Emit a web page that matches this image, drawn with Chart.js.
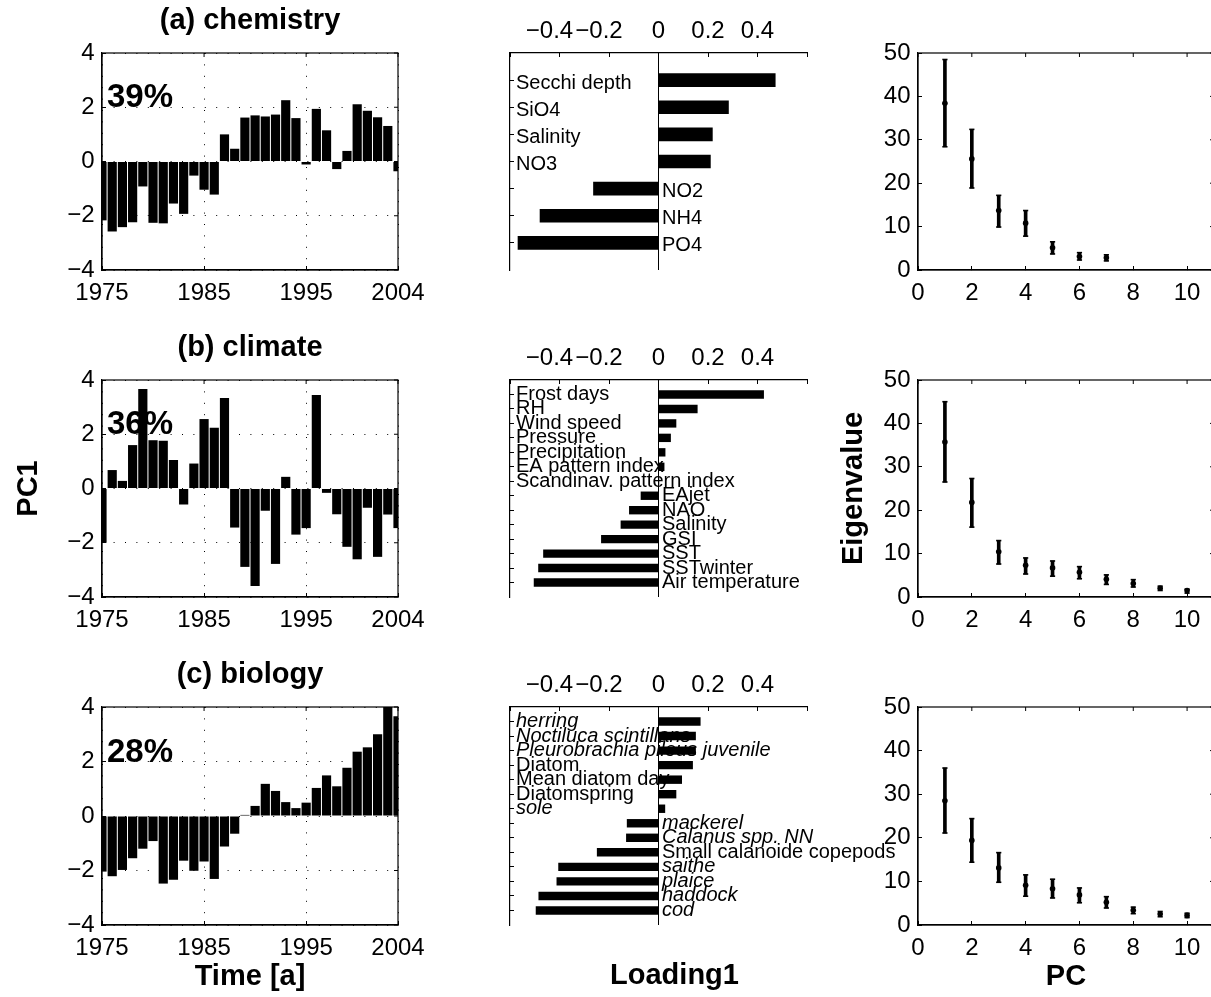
<!DOCTYPE html>
<html><head><meta charset="utf-8">
<script src="https://cdn.jsdelivr.net/npm/chart.js"></script>
<style>
html,body{margin:0;padding:0;background:#fff;overflow:hidden;width:1211px;height:997px;position:relative}
canvas{position:absolute}
</style></head><body>
<script>
// ---------------- data ----------------
const years = [1975,1976,1977,1978,1979,1980,1981,1982,1983,1984,1985,1986,1987,1988,1989,1990,1991,1992,1993,1994,1995,1996,1997,1998,1999,2000,2001,2002,2003,2004];
const yearTicks = [1975,1985,1995,2004];
const pcTicks = [-4,-2,0,2,4];
const pc1Chemistry = [-2.17,-2.58,-2.42,-2.24,-0.92,-2.26,-2.28,-1.55,-1.93,-0.52,-1.04,-1.22,1.00,0.47,1.62,1.70,1.66,1.73,2.26,1.60,-0.11,1.94,1.15,-0.28,0.39,2.11,1.87,1.63,1.31,-0.36];
const pc1Climate   = [-2.00,0.68,0.28,1.60,3.67,1.78,1.76,1.05,-0.59,0.92,2.56,2.24,3.34,-1.44,-2.89,-3.59,-0.82,-2.78,0.43,-1.70,-1.46,3.45,-0.16,-0.95,-2.15,-2.61,-0.71,-2.52,-0.96,-1.46];
const pc1Biology   = [-2.04,-2.21,-1.98,-1.55,-1.20,-0.92,-2.48,-2.34,-1.64,-2.01,-1.67,-2.31,-1.12,-0.65,0.04,0.37,1.18,0.92,0.51,0.29,0.49,1.03,1.49,1.09,1.77,2.36,2.52,3.00,4.30,3.66];
const panelTitles = ['(a) chemistry','(b) climate','(c) biology'];
const explained = ['39%','36%','28%'];

const chemVars = ['Secchi depth','SiO4','Salinity','NO3','NO2','NH4','PO4'];
const chemLoad = [0.473,0.284,0.219,0.211,-0.264,-0.480,-0.569];
const climVars = ['Frost days','RH','Wind speed','Pressure','Precipitation','EA pattern index','Scandinav. pattern index','EAjet','NAO','Salinity','GSI','SST','SSTwinter','Air temperature'];
const climLoad = [0.426,0.158,0.072,0.050,0.028,0.024,0.003,-0.072,-0.119,-0.153,-0.232,-0.466,-0.486,-0.504];
const bioVars = ['herring','Noctiluca scintillans','Pleurobrachia pileus juvenile','Diatom','Mean diatom day','Diatomspring','sole','mackerel','Calanus spp. NN','Small calanoide copepods','saithe','plaice','haddock','cod'];
const bioLoad = [0.170,0.151,0.151,0.139,0.095,0.072,0.027,-0.128,-0.131,-0.249,-0.405,-0.412,-0.485,-0.496];
const bioItalic = ['herring','Noctiluca scintillans','Pleurobrachia pileus juvenile','sole','mackerel','Calanus spp. NN','saithe','plaice','haddock','cod'];
const loadTicks = [-0.6,-0.4,-0.2,0,0.2,0.4,0.6];

const pcIndex = [1,2,3,4,5,6,7,8,9,10];
const eigTicksX = [0,2,4,6,8,10];
const eigTicksY = [0,10,20,30,40,50];
const eigChemMean = [38.4,25.6,13.7,10.8,5.1,3.1,2.8];
const eigChemLow  = [28.4,18.9,9.9,7.8,3.7,2.3,2.1];
const eigChemHigh = [48.5,32.4,17.2,13.7,6.5,4.0,3.5];
const eigClimMean = [35.7,21.8,10.4,7.3,6.7,5.7,4.1,3.1,2.0,1.5];
const eigClimLow  = [26.5,16.1,7.6,5.3,4.8,4.2,2.9,2.3,1.5,0.9];
const eigClimHigh = [45.0,27.3,13.0,9.0,8.3,7.0,5.1,4.0,2.5,1.8];
const eigBioMean  = [28.5,19.4,13.1,9.1,8.3,6.9,5.2,3.4,2.5,2.2];
const eigBioLow   = [21.1,14.4,9.8,6.6,6.2,5.1,3.9,2.6,1.9,1.7];
const eigBioHigh  = [36.0,24.4,16.6,11.5,10.5,8.5,6.5,4.1,3.1,2.7];

// ---------------- layout ----------------
const FONT = '"Liberation Sans", Arial, Helvetica, sans-serif';
Chart.defaults.font.family = FONT;
Chart.defaults.color = '#000';
const ROWS = [{top:53,bottom:270},{top:380,bottom:597},{top:707,bottom:925}];
const COLS = [{left:102,right:398},{left:510,right:807},{left:918,right:1214}];
const MT = 53, MB = 72;

function mkCanvas(x, y, w, h){
  const c = document.createElement('canvas');
  c.width = w; c.height = h;
  c.style.left = x + 'px'; c.style.top = y + 'px';
  c.style.width = w + 'px'; c.style.height = h + 'px';
  document.body.appendChild(c);
  return c;
}
const minusFmt = v => v < 0 ? '\u2212' + Math.abs(v) : String(v);

// ---------------- plugins ----------------
const framePlugin = {
  id: 'frame',
  afterDraw(chart, args, o){
    if (!o || !o.on) return;
    const {ctx, chartArea: a} = chart;
    ctx.save();
    ctx.strokeStyle = '#000';
    ctx.lineWidth = 1.2;
    ctx.strokeRect(a.left, a.top, a.right - a.left, a.bottom - a.top);
    const xs = chart.scales.x, ys = chart.scales.y;
    ctx.lineWidth = 1;
    ctx.beginPath();
    xs.ticks.forEach(t => { const p = xs.getPixelForValue(t.value); ctx.moveTo(p, a.top); ctx.lineTo(p, a.top + 4); });
    ys.ticks.forEach(t => { const p = ys.getPixelForValue(t.value); ctx.moveTo(a.right, p); ctx.lineTo(a.right - 4, p); });
    ctx.stroke();
    ctx.restore();
  }
};
const pctPlugin = {
  id: 'pct',
  beforeDatasetsDraw(chart, args, o){
    if (!o || !o.text) return;
    const {ctx} = chart; const xs = chart.scales.x, ys = chart.scales.y;
    ctx.save();
    ctx.font = 'bold 33px ' + FONT;
    ctx.fillStyle = '#000'; ctx.textAlign = 'left'; ctx.textBaseline = 'alphabetic';
    ctx.fillText(o.text, xs.getPixelForValue(xs.min) + 5, ys.getPixelForValue(o.atY));
    ctx.restore();
  }
};
const varLabelPlugin = {
  id: 'varLabels',
  afterDatasetsDraw(chart, args, o){
    if (!o || !o.names) return;
    const {ctx} = chart; const xs = chart.scales.x, ys = chart.scales.y;
    ctx.save();
    ctx.fillStyle = '#000'; ctx.textAlign = 'left'; ctx.textBaseline = 'middle';
    o.names.forEach((nm, i) => {
      const v = o.values[i];
      const it = o.italic && o.italic.includes(nm);
      ctx.font = (it ? 'italic ' : '') + '20px ' + FONT;
      const y = ys.getPixelForValue(i + 1) + (o.dy || 0);
      const x = v > 0 ? xs.left + 6 : xs.getPixelForValue(0) + 3.5;
      ctx.fillText(nm, x, y);
    });
    if (o.xlabel){
      ctx.font = 'bold 29px ' + FONT;
      ctx.textAlign = 'center'; ctx.textBaseline = 'alphabetic';
      ctx.fillText(o.xlabel, (xs.left + xs.right) / 2 + 16, chart.chartArea.bottom + 59);
    }
    ctx.restore();
  }
};

// ---------------- time series ----------------
function tsChart(row, vals, title, pct, yTitle, xTitle){
  const r = ROWS[row], c = COLS[0];
  const ML = c.left, MR = 50;
  const cv = mkCanvas(c.left - ML, r.top - MT, ML + (c.right - c.left) + MR, MT + (r.bottom - r.top) + MB);
  new Chart(cv, {
    type: 'bar',
    data: { datasets: [{ data: years.map((y, i) => ({x: y, y: vals[i]})), backgroundColor: '#000', borderWidth: 0,
      barPercentage: 0.9, categoryPercentage: 1, clip: 0 }] },
    options: {
      responsive: false, animation: false, devicePixelRatio: 1, events: [],
      layout: { padding: {left: 0, right: MR, top: 0, bottom: 0} },
      plugins: {
        legend: {display: false}, tooltip: {enabled: false},
        title: { display: true, fullSize: false, text: title, color: '#000', font: {size: 29, weight: 'bold'}, padding: {top: 3.6, bottom: 14.6} },
        pct: { text: pct, atY: 2 }, frame: { on: true }
      },
      scales: {
        x: { type: 'linear', min: 1975, max: 2004, offset: false,
          afterBuildTicks: s => { s.ticks = yearTicks.map(v => ({value: v})); },
          afterFit: s => { s.height = MB; },
          ticks: { autoSkip: false, maxRotation: 0, padding: 13.3, color: '#000', font: {size: 24}, callback: v => String(v) },
          grid: { offset: false, color: '#000', lineWidth: 1, tickColor: '#000', tickLength: -4, tickWidth: 1 },
          border: { display: true, color: '#000', width: 1.2, dash: [1, 10.4] },
          title: { display: !!xTitle, text: xTitle || '', color: '#000', font: {size: 29, weight: 'bold'}, padding: {top: 0, bottom: 3} }
        },
        y: { type: 'linear', min: -4, max: 4,
          afterBuildTicks: s => { s.ticks = pcTicks.map(v => ({value: v})); },
          afterFit: s => { s.width = ML; },
          ticks: { padding: 11.5, color: '#000', font: {size: 24}, callback: minusFmt },
          grid: { color: '#000', lineWidth: 1, tickColor: '#000', tickLength: -4, tickWidth: 1 },
          border: { display: true, color: '#000', width: 1.2, dash: [1, 10.4] },
          title: { display: !!yTitle, text: yTitle || '', color: '#000', font: {size: 29, weight: 'bold'}, padding: {top: 12, bottom: 0} }
        }
      }
    },
    plugins: [framePlugin, pctPlugin]
  });
}

// ---------------- loadings ----------------
function loadChart(row, names, vals, italic, barPct, dy, xlabel){
  const r = ROWS[row], c = COLS[1];
  const ML = 70, MR = 110;
  const cv = mkCanvas(c.left - ML, r.top - MT, ML + (c.right - c.left) + MR, MT + (r.bottom - r.top) + MB);
  const n = names.length;
  new Chart(cv, {
    type: 'bar',
    data: { datasets: [{ data: names.map((nm, i) => ({x: vals[i], y: i + 1})), backgroundColor: '#000', borderWidth: 0,
      barPercentage: barPct, categoryPercentage: 1 }] },
    options: {
      indexAxis: 'y',
      responsive: false, animation: false, devicePixelRatio: 1, events: [],
      layout: { padding: {left: 0, right: MR, top: 0, bottom: MB} },
      plugins: {
        legend: {display: false}, tooltip: {enabled: false},
        varLabels: { names: names, values: vals, italic: italic, dy: dy, xlabel: xlabel }
      },
      scales: {
        x: { type: 'linear', position: 'top', min: -0.6, max: 0.6,
          afterBuildTicks: s => { s.ticks = loadTicks.map(v => ({value: v})); },
          afterFit: s => { s.height = MT; },
          ticks: { autoSkip: false, maxRotation: 0, padding: 11, color: '#000', font: {size: 24},
            callback: (v, i, t) => (i === 0 || i === t.length - 1) ? '' : (v < 0 ? '\u2212' + Math.abs(v).toFixed(1) + '   ' : (v === 0 ? '0' : v.toFixed(1))) },
          grid: { offset: false, color: ctx => (ctx.tick && ctx.tick.value === 0) ? '#000' : 'rgba(0,0,0,0)', lineWidth: 1,
            tickColor: '#000', tickLength: -4, tickWidth: 1 },
          border: { display: true, color: '#000', width: 1.2 }
        },
        y: { type: 'linear', min: 0, max: n + 1, reverse: true, offset: false,
          afterBuildTicks: s => { s.ticks = names.map((nm, i) => ({value: i + 1})); },
          afterFit: s => { s.width = ML; },
          ticks: { display: false },
          grid: { offset: false, drawOnChartArea: false, color: '#000', tickColor: '#000', tickLength: -4, tickWidth: 1 },
          border: { display: true, color: '#000', width: 1.2 }
        }
      }
    },
    plugins: [varLabelPlugin]
  });
}

// ---------------- eigenvalues ----------------
function eigChart(row, mean, lo, hi, yTitle, xTitle){
  const r = ROWS[row], c = COLS[2];
  const ML = 102, MR = 6;
  const cv = mkCanvas(c.left - ML, r.top - MT, ML + (c.right - c.left) + MR, MT + (r.bottom - r.top) + MB);
  const idx = pcIndex.slice(0, mean.length);
  new Chart(cv, {
    type: 'bar',
    data: { datasets: [
      { type: 'bar', data: idx.map((k, i) => ({x: k, y: [lo[i], hi[i]]})), backgroundColor: '#000', borderWidth: 0, barThickness: 3 },
      { type: 'line', showLine: false, data: idx.map((k, i) => ({x: k, y: mean[i]})), pointRadius: 2.8, pointBackgroundColor: '#000', pointBorderWidth: 0 },
      { type: 'line', showLine: false, data: idx.map((k, i) => ({x: k, y: lo[i]})).concat(idx.map((k, i) => ({x: k, y: hi[i]}))),
        pointStyle: 'line', pointRadius: 2.6, pointBorderColor: '#000', pointBorderWidth: 1.6 }
    ] },
    options: {
      responsive: false, animation: false, devicePixelRatio: 1, events: [],
      layout: { padding: {left: 0, right: MR, top: MT, bottom: 0} },
      plugins: { legend: {display: false}, tooltip: {enabled: false}, frame: { on: true } },
      scales: {
        x: { type: 'linear', min: 0, max: 11, offset: false,
          afterBuildTicks: s => { s.ticks = eigTicksX.map(v => ({value: v})); },
          afterFit: s => { s.height = MB; },
          ticks: { autoSkip: false, maxRotation: 0, padding: 13.3, color: '#000', font: {size: 24}, callback: v => String(v) },
          grid: { offset: false, drawOnChartArea: false, color: '#000', tickColor: '#000', tickLength: -4, tickWidth: 1 },
          border: { display: true, color: '#000', width: 1.2 },
          title: { display: !!xTitle, text: xTitle || '', color: '#000', font: {size: 29, weight: 'bold'}, padding: {top: 0, bottom: 3} }
        },
        y: { type: 'linear', min: 0, max: 50,
          afterBuildTicks: s => { s.ticks = eigTicksY.map(v => ({value: v})); },
          afterFit: s => { s.width = ML; },
          ticks: { padding: 11.5, color: '#000', font: {size: 24}, callback: v => String(v) },
          grid: { drawOnChartArea: false, color: '#000', tickColor: '#000', tickLength: -4, tickWidth: 1 },
          border: { display: true, color: '#000', width: 1.2 },
          title: { display: !!yTitle, text: yTitle || '', color: '#000', font: {size: 29, weight: 'bold'}, padding: {top: 20.6, bottom: 0} }
        }
      }
    },
    plugins: [framePlugin]
  });
}

tsChart(0, pc1Chemistry, panelTitles[0], explained[0], null, null);
tsChart(1, pc1Climate,   panelTitles[1], explained[1], 'PC1', null);
tsChart(2, pc1Biology,   panelTitles[2], explained[2], null, 'Time [a]');
loadChart(0, chemVars, chemLoad, [], 0.5, 3, null);
loadChart(1, climVars, climLoad, [], 0.58, 0, null);
loadChart(2, bioVars, bioLoad, bioItalic, 0.58, 0, 'Loading1');
eigChart(0, eigChemMean, eigChemLow, eigChemHigh, null, null);
eigChart(1, eigClimMean, eigClimLow, eigClimHigh, 'Eigenvalue', null);
eigChart(2, eigBioMean, eigBioLow, eigBioHigh, null, 'PC');
</script>
</body></html>
